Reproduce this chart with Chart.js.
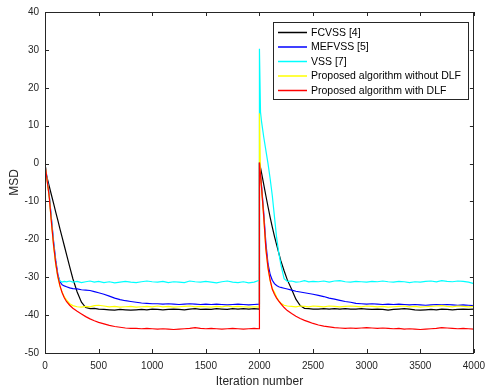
<!DOCTYPE html>
<html>
<head>
<meta charset="utf-8">
<script src="https://cdn.jsdelivr.net/npm/chart.js@4.4.1/dist/chart.umd.min.js"></script>
<style>
  body { margin: 0; background: #fff; }
  canvas { display: block; }
</style>
</head>
<body>
<canvas id="msdChart" width="492" height="389"></canvas>
<script>
var iterations = [
    0, 20, 40, 60, 80, 100, 120, 140, 160, 180, 200,
    230, 260, 300, 340, 380, 420, 460, 500,
    550, 600, 650, 700, 750, 800, 850, 900, 950, 1000, 1050, 1100, 1150, 1200, 1250,
    1300, 1350, 1400, 1450, 1500, 1550, 1600, 1650, 1700, 1750, 1800, 1850, 1900, 1950,
    1999,
    2000, 2010, 2020,
    2040, 2060, 2080, 2100, 2120, 2140, 2160, 2180, 2200,
    2230, 2260, 2300, 2340, 2380, 2420, 2460, 2500,
    2550, 2600, 2650, 2700, 2750, 2800, 2850, 2900, 2950, 3000, 3050, 3100, 3150, 3200, 3250,
    3300, 3350, 3400, 3450, 3500, 3550, 3600, 3650, 3700, 3750, 3800, 3850, 3900, 3950, 4000
];

var fcvss = [
    -1.8, -3.8, -6.0, -8.3, -10.5, -12.8, -15.0, -17.3, -19.5, -21.7, -23.9,
    -27.2, -30.4, -33.9, -36.6, -38.0, -38.3, -38.2, -38.4,
    -38.5, -38.6, -38.7, -38.5, -38.6, -38.7, -38.6, -38.5, -38.6, -38.4, -38.5, -38.6, -38.5, -38.4, -38.5,
    -38.6, -38.4, -38.3, -38.5, -38.4, -38.5, -38.3, -38.4, -38.5, -38.3, -38.4, -38.3, -38.4, -38.3,
    -38.4,
    0.3, -1.1, -2.5,
    -5.5, -8.5, -11.4, -14.2, -16.8, -19.2, -21.4, -23.6, -25.7,
    -28.3, -30.7, -33.2, -35.8, -37.5, -38.2, -38.3, -38.4,
    -38.4, -38.3, -38.4, -38.3, -38.4, -38.3, -38.4, -38.4, -38.3, -38.4, -38.5, -38.4, -38.5, -38.7, -38.5,
    -38.4, -38.3, -38.4, -38.6, -38.7, -38.6, -38.5, -38.6, -38.4, -38.5, -38.6, -38.5, -38.4, -38.5, -38.4
];

var mefvss = [
    0, -4.0, -8.5, -14.5, -20.5, -25.5, -29.3, -31.2, -32.0, -32.3, -32.5,
    -32.8, -33.0, -33.1, -33.3, -33.4, -33.5, -33.8, -34.1,
    -34.5, -35.0, -35.5, -35.9, -36.2, -36.4, -36.6, -36.8, -36.9, -37.0, -37.0, -37.1, -37.0, -37.1, -37.2,
    -37.1, -37.0, -37.1, -37.2, -37.1, -37.2, -37.1, -37.2, -37.3, -37.2, -37.1, -37.2, -37.3, -37.2,
    -37.1,
    0.2, -3.0, -6.0,
    -13.0, -21.0, -26.5, -29.3, -30.8, -31.7, -32.2, -32.5, -32.7,
    -32.9, -33.1, -33.4, -33.7, -33.9, -34.1, -34.3, -34.5,
    -34.8, -35.1, -35.5, -35.8, -36.1, -36.4, -36.6, -36.9, -37.0, -37.1, -37.0, -37.1, -37.2, -37.1, -37.2,
    -37.1, -37.2, -37.3, -37.2, -37.3, -37.4, -37.3, -37.2, -37.3, -37.2, -37.3, -37.4, -37.3, -37.4, -37.5
];

var vss = [
    0, -4.2, -8.7, -14.8, -21.0, -26.3, -29.8, -31.0, -31.3, -31.1, -31.2,
    -31.0, -31.3, -31.1, -31.4, -31.2, -31.0, -31.3, -31.1,
    -31.4, -31.2, -31.5, -31.3, -31.1, -31.3, -31.4, -31.2, -31.0, -31.2, -31.3, -31.1, -31.4, -31.2, -31.3,
    -31.4, -31.0, -31.2, -31.3, -31.1, -31.3, -31.5, -31.2, -31.0, -31.3, -31.4, -31.2, -31.5, -31.3,
    -30.8,
    30.3, 13.6, 11.0,
    7.0, 3.5, 0.0, -4.0, -8.5, -14.0, -19.5, -23.5, -26.7,
    -30.4, -31.1, -31.0, -31.3, -31.2, -30.9, -31.2, -31.1,
    -31.2, -31.0, -31.3, -31.0, -30.9, -31.2, -31.3, -31.1, -31.2, -31.3, -31.1, -31.2, -31.0, -31.2, -31.3,
    -31.1, -31.2, -31.4, -31.2, -31.3, -31.1, -31.0, -31.2, -30.9, -31.1, -31.2, -31.0, -31.1, -31.3, -31.7
];

var withoutDlf = [
    0, -4.6, -9.0, -15.7, -21.8, -26.6, -30.1, -32.5, -34.0, -35.2, -36.0,
    -37.0, -37.5, -37.8, -37.9, -37.7, -37.8, -37.5, -37.4,
    -37.6, -37.8, -37.7, -37.9, -37.8, -37.7, -37.9, -37.8, -37.7, -37.8, -37.6, -37.8, -37.7, -37.9, -37.8,
    -37.7, -37.6, -37.8, -37.7, -37.8, -37.9, -37.7, -37.8, -37.6, -37.8, -37.7, -37.8, -37.9, -37.8,
    -37.9,
    13.3, -3.2, -6.6,
    -14.2, -22.7, -27.8, -31.0, -33.0, -34.0, -35.2, -36.2, -36.9,
    -37.4, -37.6, -37.7, -37.8, -37.6, -37.7, -37.8, -37.6,
    -37.7, -37.8, -37.6, -37.7, -37.8, -37.7, -37.6, -37.7, -37.8, -37.6, -37.7, -37.8, -37.7, -37.9, -37.8,
    -37.7, -37.6, -37.8, -37.7, -37.9, -37.8, -37.7, -37.6, -37.5, -37.7, -37.8, -37.6, -37.7, -37.8, -37.7
];

var withDlf = [
    0, -4.5, -8.9, -15.5, -21.5, -26.3, -29.8, -32.3, -34.1, -35.4, -36.4,
    -37.4, -38.2, -39.0, -39.7, -40.4, -41.0, -41.5, -41.9,
    -42.3, -42.7, -43.0, -43.2, -43.4, -43.5, -43.5, -43.6, -43.5, -43.6, -43.7, -43.6, -43.7, -43.8, -43.7,
    -43.6, -43.5, -43.3, -43.5, -43.6, -43.5, -43.6, -43.7, -43.6, -43.5, -43.6, -43.7, -43.6, -43.5,
    -43.6,
    0.3, -3.0, -6.5,
    -14.0, -22.5, -27.5, -30.8, -33.2, -34.5, -35.5, -36.3, -37.0,
    -38.0, -38.8, -39.6, -40.3, -40.9, -41.4, -41.8, -42.2,
    -42.6, -42.9, -43.1, -43.3, -43.4, -43.5, -43.4, -43.5, -43.4, -43.3, -43.4, -43.5, -43.4, -43.5, -43.6,
    -43.5, -43.7, -43.6, -43.7, -43.8, -43.7, -43.6, -43.5, -43.3, -43.4, -43.5, -43.6, -43.5, -43.6, -43.7
];

var seriesNames = ['FCVSS [4]', 'MEFVSS [5]', 'VSS [7]', 'Proposed algorithm without DLF', 'Proposed algorithm with DLF'];
var seriesColors = ['#000000', '#0000ff', '#00ffff', '#ffff00', '#ff0000'];
var seriesValues = [fcvss, mefvss, vss, withoutDlf, withDlf];

var xTicks = [0, 500, 1000, 1500, 2000, 2500, 3000, 3500, 4000];
var yTicks = [-50, -40, -30, -20, -10, 0, 10, 20, 30, 40];

var FONT = '"Liberation Sans", Arial, Helvetica, sans-serif';
var AXIS_COLOR = '#262626';

function points(values) {
    return iterations.map(function (it, i) {
        return { x: it, y: values[i] };
    });
}

var datasets = seriesValues.map(function (values, i) {
    return {
        label: seriesNames[i],
        data: points(values),
        borderColor: seriesColors[i],
        backgroundColor: seriesColors[i],
        borderWidth: 1.2,
        pointRadius: 0,
        tension: 0,
        fill: false,
        order: seriesValues.length - i   // last series on top, like MATLAB
    };
});

// MATLAB-like box with inward ticks, plus the boxed legend
var matlabFrame = {
    id: 'matlabFrame',
    afterDatasetsDraw: function (chart) {
        var ctx = chart.ctx;
        var a = chart.chartArea;
        var xs = chart.scales.x;
        var ys = chart.scales.y;
        var len = 4;
        ctx.save();
        ctx.strokeStyle = AXIS_COLOR;
        ctx.lineWidth = 1;
        ctx.beginPath();
        xTicks.forEach(function (v) {
            var px = Math.round(xs.getPixelForValue(v)) + 0.5;
            ctx.moveTo(px, a.bottom);
            ctx.lineTo(px, a.bottom - len);
            ctx.moveTo(px, a.top);
            ctx.lineTo(px, a.top + len);
        });
        yTicks.forEach(function (v) {
            var py = Math.round(ys.getPixelForValue(v)) + 0.5;
            ctx.moveTo(a.left, py);
            ctx.lineTo(a.left + len, py);
            ctx.moveTo(a.right, py);
            ctx.lineTo(a.right - len, py);
        });
        ctx.stroke();
        ctx.strokeRect(Math.round(a.left) + 0.5, Math.round(a.top) + 0.5,
            Math.round(a.right - a.left) - 1, Math.round(a.bottom - a.top));
        ctx.restore();
    },
    afterDraw: function (chart) {
        var ctx = chart.ctx;
        var bx = 273, by = 22, bw = 195, bh = 77;
        ctx.save();
        ctx.fillStyle = '#ffffff';
        ctx.fillRect(bx, by, bw, bh);
        ctx.strokeStyle = AXIS_COLOR;
        ctx.lineWidth = 1;
        ctx.strokeRect(bx + 0.5, by + 0.5, bw, bh);
        ctx.font = '10.5px ' + FONT;
        ctx.textBaseline = 'middle';
        ctx.textAlign = 'left';
        seriesNames.forEach(function (name, i) {
            var y = by + 10.5 + i * 14.5;
            ctx.strokeStyle = seriesColors[i];
            ctx.lineWidth = 1.5;
            ctx.beginPath();
            ctx.moveTo(bx + 5, y);
            ctx.lineTo(bx + 34, y);
            ctx.stroke();
            ctx.fillStyle = '#000000';
            ctx.fillText(name, bx + 38, y + 0.5);
        });
        ctx.restore();
    }
};

var config = {
    type: 'line',
    data: { datasets: datasets },
    options: {
        responsive: false,
        animation: false,
        layout: { padding: { top: 9, right: 11, left: 0, bottom: 0 } },
        plugins: {
            legend: { display: false },
            tooltip: { enabled: false }
        },
        scales: {
            x: {
                type: 'linear',
                min: 0,
                max: 4000,
                afterFit: function (s) { s.height = 36; },
                afterBuildTicks: function (s) { s.ticks = xTicks.map(function (v) { return { value: v }; }); },
                grid: { display: false, drawTicks: false },
                border: { display: false },
                ticks: {
                    autoSkip: false,
                    maxRotation: 0,
                    padding: 7,
                    color: AXIS_COLOR,
                    font: { family: FONT, size: 10 },
                    callback: function (v) { return String(v); }
                },
                title: {
                    display: true,
                    text: 'Iteration number',
                    color: AXIS_COLOR,
                    padding: 0,
                    font: { family: FONT, size: 12 }
                }
            },
            y: {
                type: 'linear',
                min: -50,
                max: 40,
                afterFit: function (s) { s.width = 45; },
                afterBuildTicks: function (s) { s.ticks = yTicks.map(function (v) { return { value: v }; }); },
                grid: { display: false, drawTicks: false },
                border: { display: false },
                ticks: {
                    autoSkip: false,
                    padding: 6,
                    color: AXIS_COLOR,
                    font: { family: FONT, size: 10 },
                    callback: function (v) { return String(v); }
                },
                title: {
                    display: true,
                    text: 'MSD',
                    color: AXIS_COLOR,
                    padding: { top: 7, bottom: 0 },
                    font: { family: FONT, size: 12 }
                }
            }
        }
    },
    plugins: [matlabFrame]
};

var msdChart = new Chart(document.getElementById('msdChart'), config);
</script>
</body>
</html>
